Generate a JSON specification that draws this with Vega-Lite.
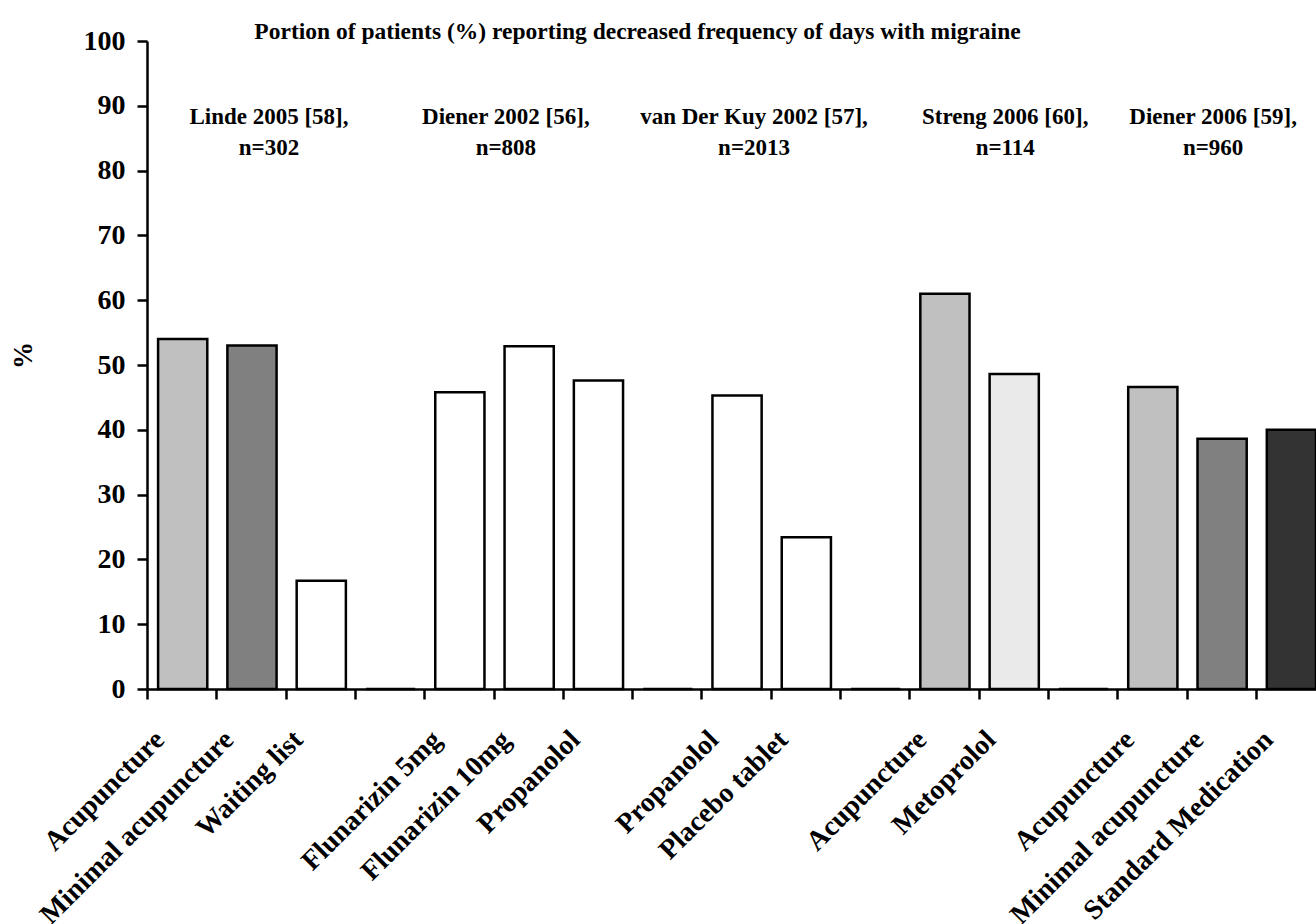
{
  "$schema": "https://vega.github.io/schema/vega-lite/v6.json",
  "width": 1169,
  "height": 648,
  "autosize": {"type": "none"},
  "padding": {"left": 147, "top": 41, "right": 0, "bottom": 235},
  "background": "white",
  "config": {"view": {"stroke": null}, "font": "Liberation Serif"},
  "title": {
    "text": "Portion of patients (%) reporting decreased frequency of days with migraine",
    "font": "Liberation Serif",
    "fontSize": 23.5,
    "fontWeight": "bold",
    "color": "black",
    "anchor": "middle",
    "frame": "group",
    "dx": -94,
    "dy": 35,
    "baseline": "alphabetic",
    "offset": 0
  },
  "layer": [
    {
      "data": {
        "values": [
          {"treatment": "Acupuncture", "kind": "Acupuncture", "percent": 54},
          {"treatment": "Minimal acupuncture", "kind": "Minimal acupuncture", "percent": 53},
          {"treatment": "Waiting list", "kind": "Other", "percent": 16.7},
          {"treatment": " ", "kind": "Other", "percent": 0},
          {"treatment": "Flunarizin 5mg", "kind": "Other", "percent": 45.8},
          {"treatment": "Flunarizin 10mg", "kind": "Other", "percent": 52.9},
          {"treatment": "Propanolol", "kind": "Other", "percent": 47.6},
          {"treatment": "  ", "kind": "Other", "percent": 0},
          {"treatment": "Propanolol\u200b", "kind": "Other", "percent": 45.3},
          {"treatment": "Placebo tablet", "kind": "Other", "percent": 23.4},
          {"treatment": "   ", "kind": "Other", "percent": 0},
          {"treatment": "Acupuncture\u200b", "kind": "Acupuncture", "percent": 61},
          {"treatment": "Metoprolol", "kind": "Metoprolol", "percent": 48.6},
          {"treatment": "    ", "kind": "Other", "percent": 0},
          {"treatment": "Acupuncture\u200b\u200b", "kind": "Acupuncture", "percent": 46.6},
          {"treatment": "Minimal acupuncture\u200b", "kind": "Minimal acupuncture", "percent": 38.6},
          {"treatment": "Standard Medication", "kind": "Standard Medication", "percent": 40}
        ]
      },
      "mark": {"type": "bar", "stroke": "black", "strokeWidth": 2.5},
      "encoding": {
        "x": {
          "field": "treatment",
          "type": "nominal",
          "sort": null,
          "scale": {"paddingInner": 0.29, "paddingOuter": 0.08, "align": 1},
          "axis": {
            "title": null,
            "bandPosition": -0.213,
            "labelAngle": -45,
            "labelAlign": "right",
            "labelBaseline": "alphabetic",
            "labelOffset": -17,
            "labelPadding": 42,
            "labelFont": "Liberation Serif",
            "labelFontSize": 28,
            "labelFontWeight": "bold",
            "labelColor": "black",
            "labelLimit": 600,
            "labelOverlap": false,
            "labelBound": false,
            "labelFlush": false,
            "tickSize": 10,
            "tickWidth": 2.5,
            "tickColor": "black",
            "domainColor": "black",
            "domainWidth": 2.5,
            "grid": false
          }
        },
        "y": {
          "field": "percent",
          "type": "quantitative",
          "scale": {"domain": [0, 100], "nice": false},
          "axis": {
            "title": "%",
            "titleFont": "Liberation Serif",
            "titleFontSize": 27,
            "titleFontWeight": "bold",
            "titleColor": "black",
            "titlePadding": 46,
            "titleY": 314,
            "values": [0, 10, 20, 30, 40, 50, 60, 70, 80, 90, 100],
            "labelFont": "Liberation Serif",
            "labelFontSize": 28,
            "labelFontWeight": "bold",
            "labelColor": "black",
            "labelPadding": 12,
            "labelFlush": false,
            "labelOverlap": false,
            "tickSize": 10,
            "tickWidth": 2.5,
            "tickColor": "black",
            "domainColor": "black",
            "domainWidth": 2.5,
            "grid": false
          }
        },
        "fill": {
          "field": "kind",
          "type": "nominal",
          "scale": {
            "domain": ["Acupuncture", "Minimal acupuncture", "Other", "Metoprolol", "Standard Medication"],
            "range": ["#c0c0c0", "#808080", "#ffffff", "#eaeaea", "#333333"]
          },
          "legend": null
        }
      }
    },
    {
      "data": {
        "values": [
          {"treatment": "Minimal acupuncture", "study": "Linde 2005 [58],\nn=302"},
          {"treatment": "Propanolol\u200b", "study": "van Der Kuy 2002 [57],\nn=2013"}
        ]
      },
      "mark": {"type": "text", "font": "Liberation Serif", "fontSize": 23, "fontWeight": "bold", "lineBreak": "\n", "lineHeight": 31, "align": "center", "baseline": "alphabetic", "dx": 17, "color": "black"},
      "encoding": {
        "x": {"field": "treatment", "type": "nominal", "sort": null},
        "y": {"datum": 87.2, "type": "quantitative"},
        "text": {"field": "study"}
      }
    },
    {
      "data": {
        "values": [
          {"treatment": "Flunarizin 5mg", "study": "Diener 2002 [56],\nn=808"}
        ]
      },
      "mark": {"type": "text", "font": "Liberation Serif", "fontSize": 23, "fontWeight": "bold", "lineBreak": "\n", "lineHeight": 31, "align": "center", "baseline": "alphabetic", "dx": 46, "color": "black"},
      "encoding": {
        "x": {"field": "treatment", "type": "nominal", "sort": null},
        "y": {"datum": 87.2, "type": "quantitative"},
        "text": {"field": "study"}
      }
    },
    {
      "data": {
        "values": [
          {"treatment": "Metoprolol", "study": "Streng 2006 [60],\nn=114"},
          {"treatment": "Minimal acupuncture\u200b", "study": "Diener 2006 [59],\nn=960"}
        ]
      },
      "mark": {"type": "text", "font": "Liberation Serif", "fontSize": 23, "fontWeight": "bold", "lineBreak": "\n", "lineHeight": 31, "align": "center", "baseline": "alphabetic", "dx": -9, "color": "black"},
      "encoding": {
        "x": {"field": "treatment", "type": "nominal", "sort": null},
        "y": {"datum": 87.2, "type": "quantitative"},
        "text": {"field": "study"}
      }
    }
  ]
}
